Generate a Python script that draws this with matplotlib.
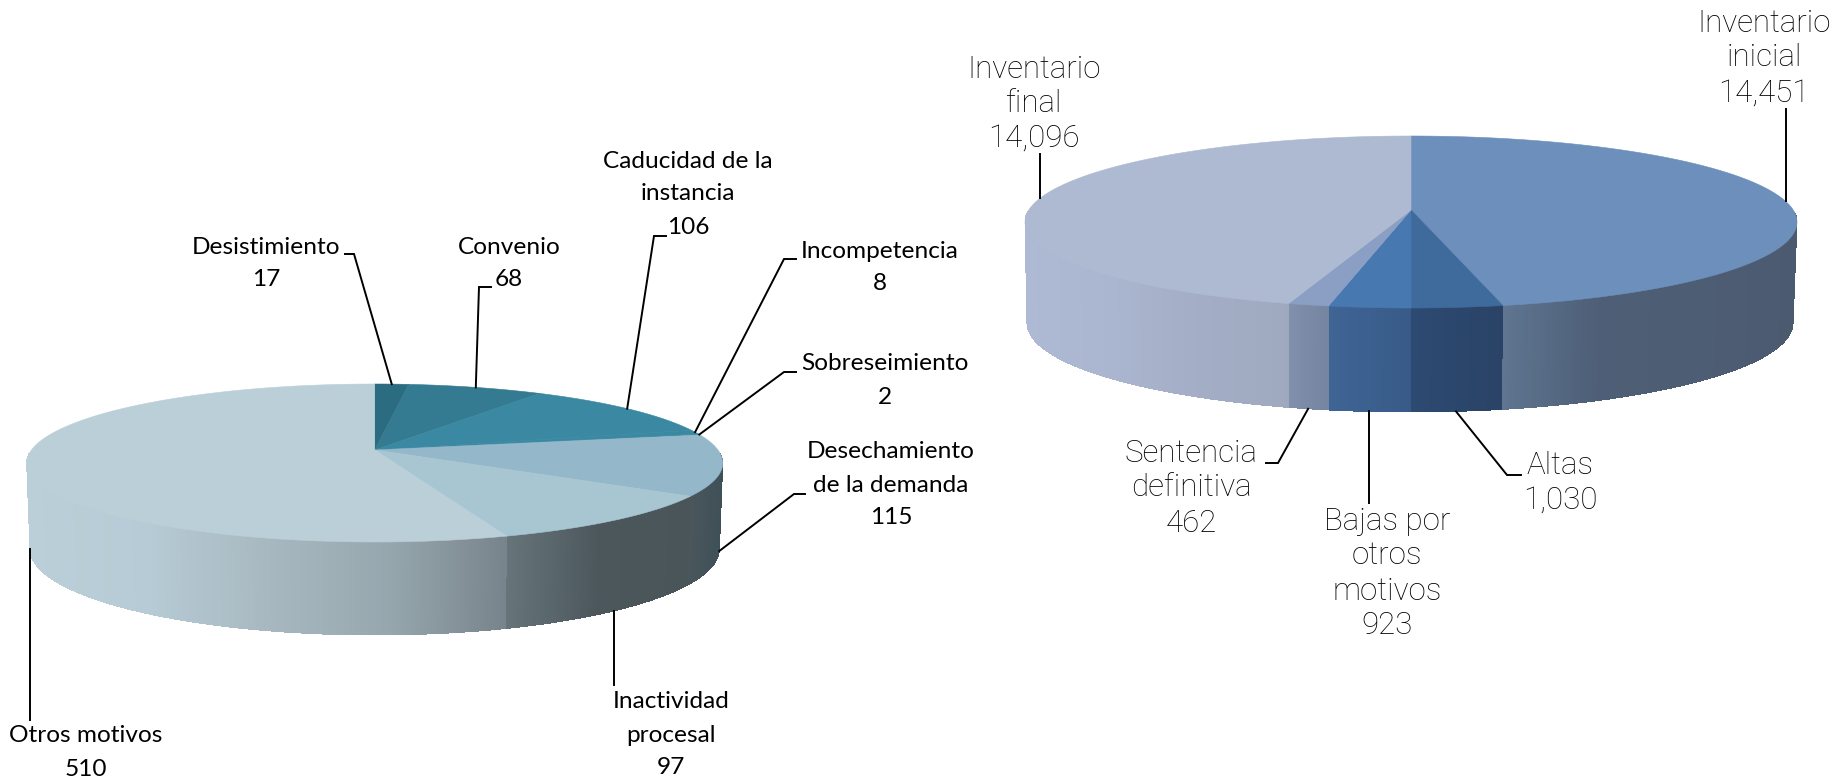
import numpy as np
import matplotlib
matplotlib.use("Agg")
import matplotlib.pyplot as plt
from matplotlib.colors import to_rgb
from matplotlib.collections import PolyCollection

# left pie
left_names = ["Desistimiento", "Convenio", "Caducidad de la\ninstancia", "Incompetencia", "Sobreseimiento",
              "Desechamiento\nde la demanda", "Inactividad\nprocesal", "Otros motivos"]
left_values = [17, 68, 106, 8, 2, 115, 97, 510]
left_top = ["#2C6C80", "#347A90", "#3A88A2", "#3A88A2", "#3A88A2", "#94B8CA", "#A8C5D2", "#BBCFD9"]
left_wall = [["#2C4A55"], ["#2C4A55"], ["#2C4A55"], ["#3F5059"], ["#3F5059"],
             ["#4A565C", "#3F5058"],
             ["#66757A", "#4C575C", "#4A555A"],
             ["#BBCFD9", "#B6CBD5", "#A8B8C0", "#97A7AE", "#78848B"]]

# right pie
right_names = ["Inventario\ninicial", "Altas", "Bajas por\notros\nmotivos", "Sentencia\ndefinitiva", "Inventario\nfinal"]
right_values = [14451, 1030, 923, 462, 14096]
right_top = ["#6C90BB", "#3F6A9C", "#4878B0", "#8A9FC3", "#ADBAD2"]
right_wall = [["#5F7590", "#4D5E76", "#4D5D73", "#4C5A70"],
              ["#2D4A72", "#2A4366"],
              ["#3F6595", "#385A88"],
              ["#8090AD", "#75849F"],
              ["#AEB9D3", "#AAB5CF", "#A3ADC5", "#9FA9BE"]]


def rim(theta, cx, cy, rx, ry, k):
    # perspective circle: theta in degrees, clockwise from 12 o'clock
    u = np.sin(np.radians(theta))
    v = -np.cos(np.radians(theta))
    w = 1 - k * v
    x = cx + rx * np.sqrt(1 - k ** 2) * u / w
    y = cy - k * ry + ry * (1 - k ** 2) * v / w
    return x, y


def draw_pie(ax, values, top_cols, wall_cols, top, bottom):
    k = top[4]
    edges = np.concatenate([[0], np.cumsum(values)]) / sum(values) * 360
    # side wall
    for i in range(len(values)):
        th = np.linspace(edges[i], edges[i + 1], 400)
        th = th[-np.cos(np.radians(th)) > k - 0.12]
        if len(th) < 2:
            continue
        xt, yt = rim(th, *top)
        xb, yb = rim(th, *bottom)
        t = (xt - xt.min()) / max(xt.max() - xt.min(), 1)
        stops = np.array([to_rgb(c) for c in wall_cols[i]])
        where = np.linspace(0, 1, len(stops))
        polys, cols = [], []
        for j in range(len(th) - 1):
            polys.append([(xt[j], yt[j]), (xt[j + 1], yt[j + 1]), (xb[j + 1], yb[j + 1]), (xb[j], yb[j])])
            tm = (t[j] + t[j + 1]) / 2
            cols.append([np.interp(tm, where, stops[:, c]) for c in range(3)])
        ax.add_collection(PolyCollection(polys, facecolors=cols, edgecolors="none", antialiased=False, zorder=2))
    # top face
    apex = (top[0], top[1] - k * top[3])
    for i in range(len(values)):
        th = np.linspace(edges[i], edges[i + 1], 120)
        xt, yt = rim(th, *top)
        ax.fill(np.r_[apex[0], xt], np.r_[apex[1], yt], color=top_cols[i], lw=0.4, zorder=3)
    return (edges[:-1] + edges[1:]) / 2


fig = plt.figure(figsize=(18.41, 7.81), dpi=100)
ax = fig.add_axes([0, 0, 1, 1])
ax.set_xlim(0, 1841)
ax.set_ylim(781, 0)
ax.axis("off")

# cx, cy, rx, ry, perspective
left_t = (374.7, 463, 348, 79, 0.165)
left_b = (374.7, 549, 344.7, 86, 0.165)
right_t = (1411, 222, 386, 86, 0.14)
right_b = (1410, 323, 383, 89, 0.14)

left_mid = draw_pie(ax, left_values, left_top, left_wall, left_t, left_b)
right_mid = draw_pie(ax, right_values, right_top, right_wall, right_t, right_b)


def leader(mid, geom, pts):
    x, y = rim(mid, *geom)
    xs = [x] + [p[0] for p in pts]
    ys = [y] + [p[1] for p in pts]
    ax.plot(xs, ys, color="black", lw=1.4, zorder=4, solid_joinstyle="miter")


# leaders: rim anchor comes from the data, the rest is layout
leader(left_mid[0], left_t, [(354, 254), (345, 254)])
leader(left_mid[1], left_t, [(479, 287), (491, 287)])
leader(left_mid[2], left_t, [(654, 236), (666, 236)])
leader(left_mid[3], left_t, [(784, 259), (796, 259)])
leader(left_mid[4], left_t, [(784, 372), (796, 372)])
leader(left_mid[5], left_b, [(794, 494), (805, 494)])
leader(left_mid[6], left_b, [(rim(left_mid[6], *left_b)[0], 685)])
leader(left_mid[7], left_b, [(rim(left_mid[7], *left_b)[0], 720)])

leader(right_mid[0], right_t, [(rim(right_mid[0], *right_t)[0], 109)])
leader(right_mid[1], right_b, [(1507, 475), (1521, 475)])
leader(right_mid[2], right_b, [(rim(right_mid[2], *right_b)[0], 503)])
leader(right_mid[3], right_b, [(1278, 463), (1266, 463)])
leader(right_mid[4], right_t, [(rim(right_mid[4], *right_t)[0], 154)])

left_font = dict(family="Lato", fontsize=17.6, color="black", ha="center", va="center")
right_font = dict(family="Roboto", fontweight="light", fontsize=22.5, color="black", ha="center", va="center")

left_pos = [(266, [247, 279]), (509, [247, 280]), (688, [162, 194, 227]), (880, [251, 284]),
            (885, [364, 397]), (891, [452, 486, 518]), (671, [702, 735, 768]), (86, [736, 769])]
right_pos = [(1764, [24, 58, 93]), (1560, [465, 500]), (1387, [522, 556, 591, 625]),
             (1191, [453, 488, 523]), (1034, [69, 103, 138])]

for name, val, (x, ys) in zip(left_names, left_values, left_pos):
    for line, y in zip(name.split("\n") + [f"{val:,}"], ys):
        ax.text(x, y, line, **left_font)

for name, val, (x, ys) in zip(right_names, right_values, right_pos):
    for line, y in zip(name.split("\n") + [f"{val:,}"], ys):
        ax.text(x, y, line, **right_font)

fig.savefig("out.png", dpi=100)
